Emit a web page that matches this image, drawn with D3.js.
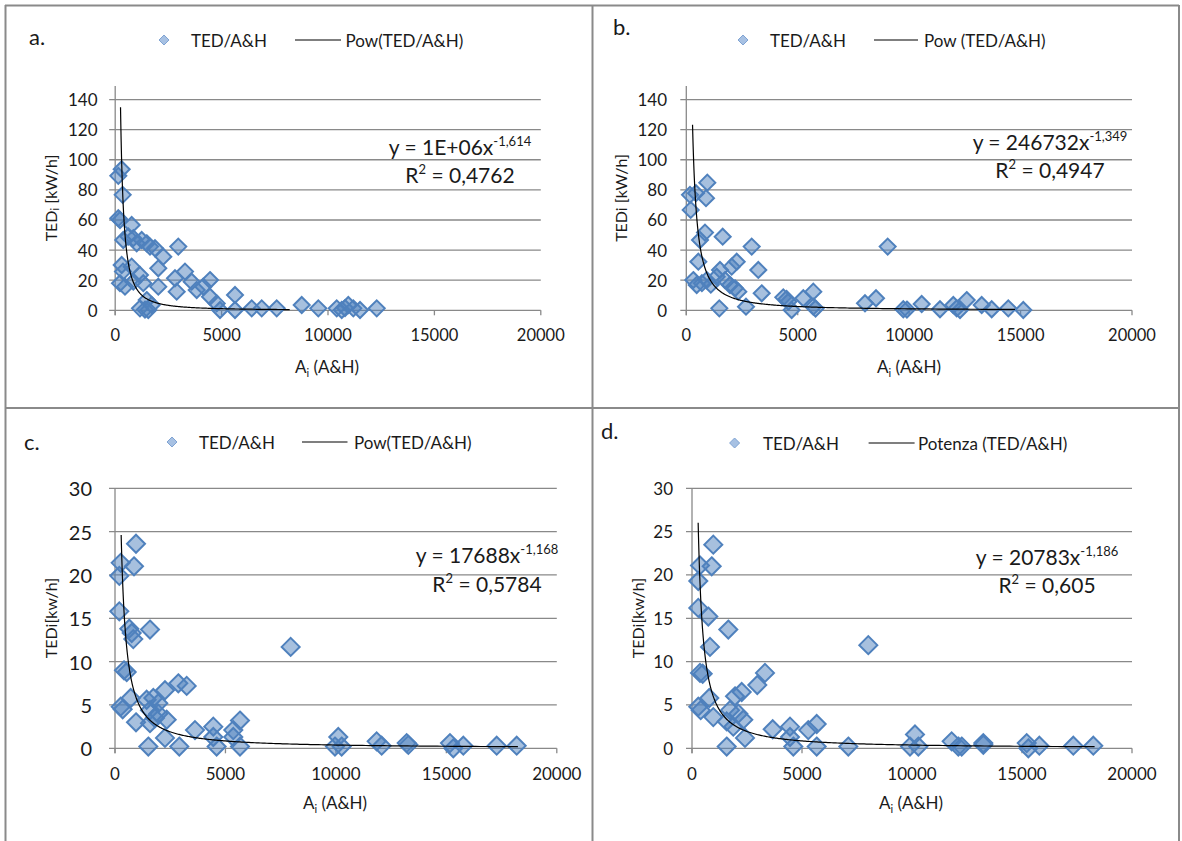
<!DOCTYPE html>
<html>
<head>
<meta charset="utf-8">
<script src="https://cdn.jsdelivr.net/npm/d3@7"></script>
<style>
  body { margin: 0; background: #fff; }
  svg { display: block; font-family: Lato, "Open Sans", sans-serif; }
</style>
</head>
<body>
<svg id="chart" width="1182" height="841"></svg>
<script>
// ---- data: [A_i, TED_i] ----
const pointsA = [[305,93.7],[146,89.3],[352,76.7],[146,61.2],[225,60],[775,56.7],[381,46.7],[616,49],[851,47.9],
  [1010,44.5],[1245,46.7],[1480,44.5],[1635,42.3],[1870,41.2],[2260,35.6],[2965,42.3],[305,30.1],[775,29],[367,25.7],
  [1165,23.5],[2025,27.9],[225,18],[460,15.7],[851,19],[1320,18],[2025,15.7],[2810,21.3],[3280,25.7],[2890,12.4],
  [3595,19],[3830,13.5],[4140,15.7],[4455,20.1],[4455,9],[4770,4.6],[5630,10.2],[1165,1.3],[1400,0.5],[1555,0.2],
  [1715,3.5],[1480,6.8],[4925,0.2],[5630,0.2],[6415,1.3],[6885,1.3],[7590,1.3],[8765,3.5],[9545,1.3],[10410,1.3],
  [10645,0.2],[10800,1.5],[10955,3.5],[11190,1.3],[11505,0.2],[12290,1.3]];

const pointsB = [[943,84.8],[166,76.7],[435,77.8],[884,74.5],[197,66.7],[839,51.6],[615,46.7],[1633,48.9],[2935,42.3],
  [9037,42.3],[540,32.3],[2262,32.3],[2037,29],[3231,26.8],[1512,26.8],[315,20.1],[466,16.8],[700,18],[915,20.1],
  [1100,17],[1364,22.3],[1737,20.1],[1961,16.8],[2185,14.6],[2334,12.4],[3384,11.3],[1482,1.3],[2679,2.4],[4353,8.6],
  [4500,7.5],[4577,5.7],[4727,0.2],[5250,8],[5699,12.4],[5699,2.4],[5800,1.2],[8019,4.7],[8513,8],[9738,0.7],[9900,0.5],
  [10563,4.2],[11384,0.7],[11982,3.5],[12133,1.3],[12283,0.2],[12582,6.8],[13255,3.5],[13704,0.7],[14449,1.3],[15122,0.2]];

const pointsC = [[951,23.6],[258,21.4],[860,21.0],[195,19.9],[195,15.8],[647,13.8],[1584,13.7],[828,12.6],[756,13.3],
  [7952,11.7],[407,9.0],[530,8.8],[258,4.8],[348,4.5],[710,5.8],[951,3.0],[1508,0.2],[1433,5.6],[1735,5.8],[1960,5.2],
  [2263,6.7],[2866,7.5],[3246,7.2],[1584,4.4],[1960,4.0],[2340,3.3],[1810,3.5],[1584,2.9],[2263,1.2],[2911,0.2],
  [3621,2.1],[4450,2.5],[4450,1.3],[4601,0.2],[5355,2.1],[5355,1.3],[5658,3.2],[5658,0.2],[10108,1.3],[9958,0.2],
  [10260,0.2],[11845,0.8],[12072,0.3],[13204,0.6],[13280,0.4],[15165,0.6],[15315,0],[15768,0.3],[17279,0.3],[18185,0.3]];

const pointsD = [[968,23.5],[364,21.1],[895,21.0],[286,19.3],[286,16.2],[741,15.2],[1650,13.7],[818,11.7],[8014,11.9],
  [364,8.7],[486,8.6],[3318,8.7],[2968,7.3],[286,4.8],[395,4.4],[786,5.8],[968,3.6],[1577,0.2],[1955,6.0],[2259,6.5],
  [1727,4.4],[2105,4.0],[1577,3.1],[2332,3.3],[2409,1.2],[1877,2.5],[3668,2.2],[4455,2.5],[4455,1.3],[4605,0.2],
  [5286,2.1],[5668,2.8],[5668,0.2],[7105,0.2],[10136,1.6],[9909,0.2],[10288,0.2],[11803,0.8],[12106,0.2],[12259,0.2],
  [13242,0.6],[13242,0.4],[15214,0.6],[15288,0],[15788,0.3],[17332,0.3],[18241,0.3]];

// power trendlines y = k * x^p, as printed on the chart
const trendA = { k: 1e6, p: -1.614, from: 250, to: 8200 };
const trendB = { k: 246732, p: -1.349, from: 280, to: 14750 };
const trendC = { k: 17688, p: -1.168, from: 279, to: 18240 };
const trendD = { k: 20783, p: -1.186, from: 280, to: 18300 };

const xTicks = [0, 5000, 10000, 15000, 20000];
const yTicksKw = [0, 20, 40, 60, 80, 100, 120, 140];
const yTicksSmall = [0, 5, 10, 15, 20, 25, 30];

const gridColor = "#898989";
const textColor = "#1a1a1a";
const markerFill = "rgba(79,129,189,0.5)";
const markerStroke = "#4f81bd";

const svg = d3.select("#chart");

// frame around the four panels
const frame = svg.append("g").attr("stroke", "#8a8a8a").attr("stroke-width", 2);
frame.append("line").attr("x1", 5).attr("x2", 1179).attr("y1", 5.5).attr("y2", 5.5);
frame.append("line").attr("x1", 5.5).attr("x2", 5.5).attr("y1", 5).attr("y2", 841);
frame.append("line").attr("x1", 1179).attr("x2", 1179).attr("y1", 5).attr("y2", 841);
frame.append("line").attr("x1", 592.5).attr("x2", 592.5).attr("y1", 5).attr("y2", 841);
frame.append("line").attr("x1", 5).attr("x2", 1179).attr("y1", 408).attr("y2", 408);

const panels = [
  { points: pointsA, trend: trendA, tag: "a.", tagX: 29, tagY: 45,
    xr: [115.2, 540.8], yr: [310.3, 86], yMax: 149, yTicks: yTicksKw,
    yLabelX: 97.6, yFont: 17, xFont: 16.5, size: 8,
    legY: 40, legMark: 164, leg1: 191, line: [295, 341], leg2: 345.6, legTrend: "Pow(TED/A&H)",
    eq: ["y = 1E+06x", "-1,614", "R", "2", " = 0,4762"], eqX: 460, eqY: [155, 183],
    yTitle: [["TED", 0], ["i", 1], [" [kW/h]", 0]], yTitleX: 50, yTitleY: 198,
    xTitleX: 327, xTitleY: 373 },
  { points: pointsB, trend: trendB, tag: "b.", tagX: 613, tagY: 35,
    xr: [686.3, 1132], yr: [310.3, 86], yMax: 149, yTicks: yTicksKw,
    yLabelX: 667, yFont: 17, xFont: 16.5, size: 8,
    legY: 40, legMark: 743, leg1: 770, line: [874, 918], leg2: 924, legTrend: "Pow (TED/A&H)",
    eq: ["y = 246732x", "-1,349", "R", "2", " = 0,4947"], eqX: 1050, eqY: [150, 178],
    yTitle: [["TEDi [kW/h]", 0]], yTitleX: 620, yTitleY: 198,
    xTitleX: 909, xTitleY: 373 },
  { points: pointsC, trend: trendC, tag: "c.", tagX: 24, tagY: 450,
    xr: [115, 556.8], yr: [748.3, 488.3], yMax: 30, yTicks: yTicksSmall,
    yLabelX: 92, yFont: 20, xFont: 17, size: 9,
    legY: 442, legMark: 172, leg1: 199, line: [302, 347.5], leg2: 354, legTrend: "Pow(TED/A&H)",
    eq: ["y = 17688x", "-1,168", "R", "2", " = 0,5784"], eqX: 487, eqY: [563, 592],
    yTitle: [["TEDi[kw/h]", 0]], yTitleX: 50, yTitleY: 618,
    xTitleX: 335, xTitleY: 809 },
  { points: pointsD, trend: trendD, tag: "d.", tagX: 601, tagY: 439,
    xr: [692, 1132], yr: [748.3, 488.3], yMax: 30, yTicks: yTicksSmall,
    yLabelX: 673, yFont: 17, xFont: 17, size: 9,
    legY: 443, legMark: 734.6, leg1: 763, line: [868.6, 914.6], leg2: 918, legTrend: "Potenza (TED/A&H)",
    eq: ["y = 20783x", "-1,186", "R", "2", " = 0,605"], eqX: 1047, eqY: [565, 593],
    yTitle: [["TEDi[kw/h]", 0]], yTitleX: 637, yTitleY: 618,
    xTitleX: 911, xTitleY: 809 }
];

function diamond(r) {
  return `M0,${-r}L${r},0L0,${r}L${-r},0Z`;
}

panels.forEach(p => {
  const x = d3.scaleLinear().domain([0, 20000]).range(p.xr);
  const y = d3.scaleLinear().domain([0, p.yMax]).range(p.yr);
  const g = svg.append("g");

  // gridlines (with the short outside tick on the left)
  g.append("g").selectAll("line").data(p.yTicks).join("line")
    .attr("x1", p.xr[0] - 6).attr("x2", p.xr[1])
    .attr("y1", d => y(d)).attr("y2", d => y(d))
    .attr("stroke", gridColor).attr("stroke-width", 1.3);

  // y axis line
  g.append("line")
    .attr("x1", p.xr[0]).attr("x2", p.xr[0])
    .attr("y1", p.yr[1]).attr("y2", y(0) + 5)
    .attr("stroke", gridColor).attr("stroke-width", 1.3);

  // x tick marks
  g.append("g").selectAll("line").data(xTicks).join("line")
    .attr("x1", d => x(d)).attr("x2", d => x(d))
    .attr("y1", y(0)).attr("y2", y(0) + 5)
    .attr("stroke", gridColor).attr("stroke-width", 1.3);

  // tick labels
  g.append("g").selectAll("text").data(p.yTicks).join("text")
    .attr("x", p.yLabelX).attr("y", d => y(d))
    .attr("text-anchor", "end").attr("dominant-baseline", "central")
    .attr("font-size", p.yFont).attr("fill", textColor)
    .text(d => d);

  g.append("g").selectAll("text").data(xTicks).join("text")
    .attr("x", d => x(d)).attr("y", y(0) + 25)
    .attr("text-anchor", "middle").attr("dominant-baseline", "central")
    .attr("font-size", p.xFont).attr("fill", textColor)
    .text(d => d);

  // scatter markers
  g.append("g").selectAll("path").data(p.points).join("path")
    .attr("d", diamond(p.size))
    .attr("transform", d => `translate(${x(d[0])},${y(d[1])})`)
    .attr("fill", markerFill)
    .attr("stroke", markerStroke)
    .attr("stroke-width", 2);

  // power trendline
  const t = p.trend;
  const xs = d3.range(0, 301).map(i => t.from * Math.pow(t.to / t.from, i / 300));
  g.append("path")
    .datum(xs)
    .attr("fill", "none").attr("stroke", "#000").attr("stroke-width", 1.2)
    .attr("d", d3.line().x(d => x(d)).y(d => y(t.k * Math.pow(d, t.p))));

  // panel tag
  g.append("text").attr("x", p.tagX).attr("y", p.tagY)
    .attr("font-size", 22).attr("fill", textColor).text(p.tag);

  // legend
  g.append("path").attr("d", diamond(5))
    .attr("transform", `translate(${p.legMark},${p.legY})`)
    .attr("fill", "#a7c1e3").attr("stroke", "#7fa3d3").attr("stroke-width", 1);
  g.append("text").attr("x", p.leg1).attr("y", p.legY)
    .attr("dominant-baseline", "central").attr("font-size", 17).attr("fill", textColor)
    .text("TED/A&H");
  g.append("line").attr("x1", p.line[0]).attr("x2", p.line[1])
    .attr("y1", p.legY).attr("y2", p.legY)
    .attr("stroke", "#000").attr("stroke-width", 1.2);
  g.append("text").attr("x", p.leg2).attr("y", p.legY)
    .attr("dominant-baseline", "central").attr("font-size", 17).attr("fill", textColor)
    .text(p.legTrend);

  // trendline equation
  const e1 = g.append("text").attr("x", p.eqX).attr("y", p.eqY[0])
    .attr("text-anchor", "middle").attr("font-size", 21).attr("fill", textColor);
  e1.append("tspan").text(p.eq[0]);
  e1.append("tspan").attr("font-size", 13).attr("dy", -9).text(p.eq[1]);
  const e2 = g.append("text").attr("x", p.eqX).attr("y", p.eqY[1])
    .attr("text-anchor", "middle").attr("font-size", 21).attr("fill", textColor);
  e2.append("tspan").text(p.eq[2]);
  e2.append("tspan").attr("font-size", 13).attr("dy", -9).text(p.eq[3]);
  e2.append("tspan").attr("dy", 9).text(p.eq[4]);

  // y axis title
  const yt = g.append("text")
    .attr("transform", `translate(${p.yTitleX},${p.yTitleY}) rotate(-90)`)
    .attr("text-anchor", "middle").attr("dominant-baseline", "central")
    .attr("font-size", 16).attr("fill", textColor);
  let shifted = 0;
  p.yTitle.forEach(([s, sub]) => {
    const dy = sub ? 4 - shifted : -shifted;
    shifted = sub ? 4 : 0;
    yt.append("tspan").attr("dy", dy).attr("font-size", sub ? 11 : 16).text(s);
  });

  // x axis title
  const xt = g.append("text").attr("x", p.xTitleX).attr("y", p.xTitleY)
    .attr("text-anchor", "middle").attr("font-size", 17).attr("fill", textColor);
  xt.append("tspan").text("A");
  xt.append("tspan").attr("font-size", 11).attr("dy", 4).text("i");
  xt.append("tspan").attr("dy", -4).text(" (A&H)");
});
</script>
</body>
</html>
